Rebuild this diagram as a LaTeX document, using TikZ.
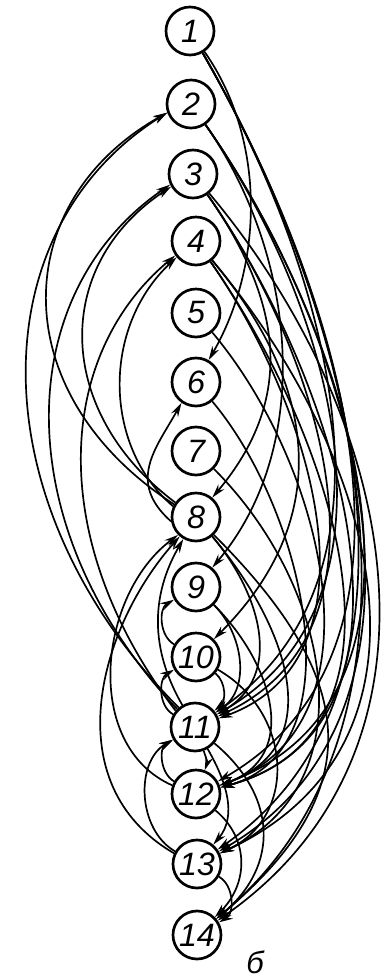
\documentclass[tikz,border=0pt]{standalone}
\usepackage{fontspec}
\setmainfont{Liberation Sans}
\usetikzlibrary{arrows.meta}

\tikzset{
  vertex/.style={circle, draw, line width=1.9pt, minimum size=1.2cm, inner sep=0pt,
    font=\fontsize{23}{26}\selectfont\itshape},
  arc/.style={line width=1.2pt},
  >={Stealth[length=10pt,width=5.5pt]},
}

\begin{document}
\begin{tikzpicture}[x=0.025cm, y=0.025cm]
    \useasboundingbox (0,0) rectangle (385,-980);

    % vertices
    \node[vertex] (n1) at (190,-31) {1};
    \node[vertex] (n2) at (191,-104) {2};
    \node[vertex] (n3) at (193,-174) {3};
    \node[vertex] (n4) at (196,-241) {4};
    \node[vertex] (n5) at (196,-313) {5};
    \node[vertex] (n6) at (196,-382) {6};
    \node[vertex] (n7) at (196,-451) {7};
    \node[vertex] (n8) at (196,-517) {8};
    \node[vertex] (n9) at (196,-587) {9};
    \node[vertex] (n10) at (196,-657) {10};
    \node[vertex] (n11) at (195,-727) {11};
    \node[vertex] (n12) at (196,-794) {12};
    \node[vertex] (n13) at (197,-864) {13};
    \node[vertex] (n14) at (197,-935) {14};
    \node[font=\fontsize{22}{24}\selectfont\itshape, inner sep=0pt] (cap) at (255,-962) {б};

    % left arcs (upwards)
    \draw[arc, ->] (n11.130) .. controls +(-200,200) and +(-190,-120) .. (n2.200);
    \draw[arc, ->] (n8.150) .. controls +(-170,110) and +(-160,-90) .. (n2.200);
    \draw[arc, ->] (n11.135) .. controls +(-170,180) and +(-160,-110) .. (n3.205);
    \draw[arc, ->] (n8.145) .. controls +(-120,90) and +(-120,-80) .. (n3.210);
    \draw[arc, ->] (n11.140) .. controls +(-130,170) and +(-120,-100) .. (n4.215);
    \draw[arc, ->] (n8.155) .. controls +(-70,60) and +(-75,-70) .. (n4.220);
    \draw[arc, ->] (n8.190) .. controls +(-45,40) and +(-25,-45) .. (n6.235);
    \draw[arc, ->] (n11.120) to[out=120, in=240, looseness=1.0] (n8);
    \draw[arc, ->] (n12.160) .. controls +(-90,40) and +(-80,-60) .. (n8.225);
    \draw[arc, ->] (n13.155) .. controls +(-120,70) and +(-80,-90) .. (n8.230);
    \draw[arc, ->] (n10) to[out=150, in=210] (n9);
    \draw[arc, ->] (n11) to[out=150, in=210] (n10);
    \draw[arc, ->] (n12) to[out=150, in=210] (n11);
    \draw[arc, ->] (n13) to[out=150, in=210] (n11);

    % right arcs (downwards)
    \draw[arc, ->] (n1) to[out=-55, in=60, looseness=0.9] (n6);
    \draw[arc, ->] (n1) to[out=-60, in=35, looseness=0.95] (n11);
    \draw[arc, ->] (n1) to[out=-60, in=30, looseness=0.95] (n12);
    \draw[arc, ->] (n1) to[out=-60, in=35, looseness=0.93] (n13);
    \draw[arc, ->] (n1) to[out=-60, in=40, looseness=0.92] (n14);
    \draw[arc, ->] (n2) to[out=-55, in=50, looseness=0.92] (n9);
    \draw[arc, ->] (n2) to[out=-55, in=30, looseness=0.98] (n11);
    \draw[arc, ->] (n2) to[out=-55, in=20, looseness=1.0] (n12);
    \draw[arc, ->] (n2) to[out=-55, in=30, looseness=0.97] (n13);
    \draw[arc, ->] (n3) to[out=-55, in=50, looseness=1.1] (n8);
    \draw[arc, ->] (n3) to[out=-55, in=25, looseness=1.0] (n11);
    \draw[arc, ->] (n3) to[out=-55, in=15, looseness=1.0] (n12);
    \draw[arc, ->] (n3) to[out=-50, in=35, looseness=1.05] (n14);
    \draw[arc, ->] (n4) to[out=-50, in=45, looseness=1.13] (n10);
    \draw[arc, ->] (n4) to[out=-55, in=20, looseness=1.0] (n11);
    \draw[arc, ->] (n4) to[out=-55, in=15, looseness=1.05] (n12);
    \draw[arc, ->] (n4) to[out=-50, in=25, looseness=1.12] (n13);
    \draw[arc, ->] (n5) to[out=-50, in=20, looseness=1.0] (n12);
    \draw[arc, ->] (n6) to[out=-50, in=15, looseness=0.95] (n12);
    \draw[arc, ->] (n7) to[out=-45, in=25, looseness=1.1] (n13);
    \draw[arc, ->] (n8) to[out=-50, in=30, looseness=1.1] (n11);
    \draw[arc, ->] (n8) to[out=-50, in=20, looseness=1.2] (n12);
    \draw[arc, ->] (n8) to[out=-45, in=40, looseness=1.35] (n14);
    \draw[arc, ->] (n9) to[out=-45, in=35, looseness=1.0] (n11);
    \draw[arc, ->] (n9) to[out=-45, in=20, looseness=1.2] (n12);
    \draw[arc, ->] (n10) to[out=-40, in=40] (n11);
    \draw[arc, ->] (n10) to[out=-30, in=25, looseness=1.2] (n13);
    \draw[arc, ->] (n11) to[out=-70, in=70] (n12);
    \draw[arc, ->] (n11) to[out=-60, in=50, looseness=1.0] (n13);
    \draw[arc, ->] (n11) to[out=-40, in=40, looseness=1.2] (n14);
    \draw[arc, ->] (n12) to[out=-40, in=45, looseness=1.1] (n14);
    \draw[arc, ->] (n13) to[out=-30, in=30] (n14);
\end{tikzpicture}
\end{document}
